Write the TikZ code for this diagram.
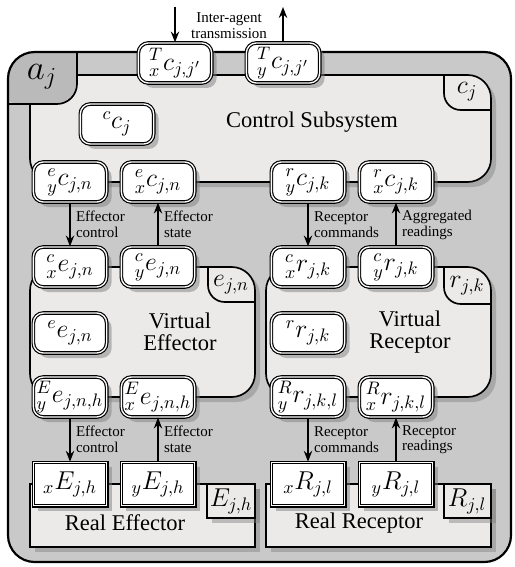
\documentclass[tikz,border=0pt]{standalone}
\usepackage{fix-cm}
\usepackage[no-math]{fontspec}
\setmainfont{Liberation Serif}
\usetikzlibrary{shadows,arrows.meta}
\definecolor{bandgray}{RGB}{201,201,201}
\definecolor{cornergray}{RGB}{186,186,186}
\definecolor{subfill}{RGB}{236,233,233}
\begin{document}
\begin{tikzpicture}[x=0.6pt,y=-0.6pt,>={Stealth[length=6.5pt,width=5pt]},line width=1pt]
\tikzset{port/.style={draw,fill=white,double,double distance=0.8pt,line width=0.7pt,rounded corners=6pt,minimum width=44pt,minimum height=24pt,inner sep=1pt,font=\fontsize{15.5}{17}\selectfont,drop shadow={shadow xshift=3pt,shadow yshift=-3pt,opacity=0.5}},
 realport/.style={port,sharp corners,minimum height=26pt},
 sub/.style={draw,fill=subfill,drop shadow={shadow xshift=3pt,shadow yshift=-3pt,opacity=0.45}},
 lab/.style={align=left,font=\fontsize{9}{9.5}\selectfont,inner sep=3pt},
 title/.style={align=center,font=\fontsize{13.5}{13}\selectfont},
 corner/.style={font=\fontsize{15.5}{17}\selectfont,inner sep=0pt}}
\useasboundingbox (0,0) rectangle (514,567);
% agent a_j
\fill[bandgray,rounded corners=16] (8,52) rectangle (511,562);
% subsystems
\draw[sub,rounded corners=14] (30,75) rectangle (491,182);
\draw[rounded corners=10] (444,75) -- (444,110) -- (491,110);
\draw[sub,rounded corners=14] (30,267) rectangle (255,397);
\draw[rounded corners=10] (208,267) -- (208,302) -- (255,302);
\draw[sub,rounded corners=14] (266,267) rectangle (491,397);
\draw[rounded corners=10] (444,267) -- (444,304) -- (491,304);
\draw[sub] (30,484) rectangle (255,547);
\draw[sub] (207,484) rectangle (255,518);
\draw[sub] (266,484) rectangle (491,547);
\draw[sub] (444,484) rectangle (491,518);
% agent corner
\begin{scope}
\clip[rounded corners=16] (8,52) rectangle (511,562);
\fill[cornergray,rounded corners=12] (0,0) -- (77,0) -- (77,104) -- (0,104) -- cycle;
\end{scope}
\draw[rounded corners=12] (77,52) -- (77,104) -- (8,104);
\draw[line width=1.3pt,rounded corners=16] (8,52) rectangle (511,562);
\node[corner,font=\fontsize{21}{23}\selectfont] (ajlab) at (42,77) {$a_j$};
\node[corner] (cjlab) at (467,92) {$c_j$};
\node[corner] (enlab) at (231,285) {$e_{j,n}$};
\node[corner] (rklab) at (467,286) {$r_{j,k}$};
\node[corner] (ehlab) at (231,501) {$E_{j,h}$};
\node[corner] (rllab) at (467,501) {$R_{j,l}$};
\node[title] (cstitle) at (312,122) {Control Subsystem};
\node[title] (vetitle) at (180,332) {Virtual\\Effector};
\node[title] (vrtitle) at (410,332) {Virtual\\Receptor};
\node[title] (retitle) at (125,523) {Real Effector};
\node[title] (rrtitle) at (359,523) {Real Receptor};
% ports
\node[port] (tx) at (175,63) {${}^{T}_{x}c_{j,j'}$};
\node[port] (ty) at (283,63) {${}^{T}_{y}c_{j,j'}$};
\node[port] (cc) at (117,124) {${}^{c}c_{j}$};
\node[port] (yce) at (70,182) {${}^{e}_{y}c_{j,n}$};
\node[port] (xce) at (158,182) {${}^{e}_{x}c_{j,n}$};
\node[port] (ycr) at (308,182) {${}^{r}_{y}c_{j,k}$};
\node[port] (xcr) at (396,182) {${}^{r}_{x}c_{j,k}$};
\node[port] (xec) at (70,267) {${}^{c}_{x}e_{j,n}$};
\node[port] (yec) at (158,267) {${}^{c}_{y}e_{j,n}$};
\node[port] (ee) at (70,333) {${}^{e}e_{j,n}$};
\node[port] (yeE) at (70,397) {${}^{E}_{y}e_{j,n,h}$};
\node[port] (xeE) at (158,397) {${}^{E}_{x}e_{j,n,h}$};
\node[port] (xrc) at (308,267) {${}^{c}_{x}r_{j,k}$};
\node[port] (yrc) at (396,267) {${}^{c}_{y}r_{j,k}$};
\node[port] (rr) at (308,333) {${}^{r}r_{j,k}$};
\node[port] (yrR) at (308,397) {${}^{R}_{y}r_{j,k,l}$};
\node[port] (xrR) at (396,397) {${}^{R}_{x}r_{j,k,l}$};
\node[realport] (xE) at (70,484) {${}_{x}E_{j,h}$};
\node[realport] (yE) at (158,484) {${}_{y}E_{j,h}$};
\node[realport] (xR) at (308,484) {${}_{x}R_{j,l}$};
\node[realport] (yR) at (396,484) {${}_{y}R_{j,l}$};
% transmissions
\coordinate (inport) at (175,7);
\coordinate (outport) at (283,7);
\draw[->,line width=1.2pt] (inport) -- (tx);
\draw[->,line width=1.2pt] (ty) -- (outport);
\node[lab,align=center] (iatlab) at (229,26) {Inter-agent\\transmission};
\draw[->,line width=1.2pt] (yce) -- node[lab,right] {Effector\\control} (xec);
\draw[->,line width=1.2pt] (yec) -- node[lab,right] {Effector\\state} (xce);
\draw[->,line width=1.2pt] (ycr) -- node[lab,right] {Receptor\\commands} (xrc);
\draw[->,line width=1.2pt] (yrc) -- node[lab,right] {Aggregated\\readings} (xcr);
\draw[->,line width=1.2pt] (yeE) -- node[lab,right] {Effector\\control} (xE);
\draw[->,line width=1.2pt] (yE) -- node[lab,right] {Effector\\state} (xeE);
\draw[->,line width=1.2pt] (yrR) -- node[lab,right] {Receptor\\commands} (xR);
\draw[->,line width=1.2pt] (yR) -- node[lab,right] {Receptor\\readings} (xrR);
\end{tikzpicture}
\end{document}
